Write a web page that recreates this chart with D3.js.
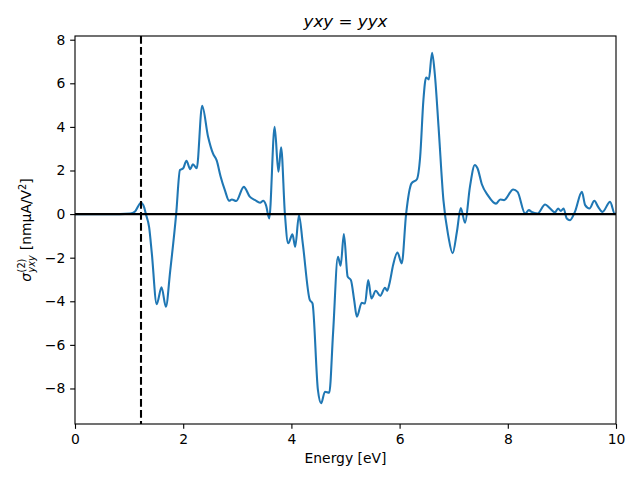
<!DOCTYPE html>
<html><head><meta charset="utf-8">
<script src="https://cdn.jsdelivr.net/npm/d3@7"></script>
<style>body{margin:0;background:#fff}svg{display:block}text{font-family:"DejaVu Sans",sans-serif;fill:#000}</style>
</head><body>
<svg id="c" width="640" height="480"></svg>
<script>
const energy = [0.0,0.83,1.02,1.11,1.22,1.28,1.31,1.37,1.42,1.51,1.60,1.68,1.76,1.87,1.94,2.00,2.06,2.13,2.18,2.25,2.35,2.46,2.55,2.62,2.69,2.77,2.85,2.90,2.98,3.12,3.23,3.33,3.42,3.48,3.53,3.59,3.69,3.76,3.81,3.88,3.94,4.02,4.07,4.14,4.21,4.34,4.39,4.49,4.55,4.62,4.70,4.77,4.86,4.91,4.97,5.04,5.10,5.16,5.21,5.30,5.36,5.42,5.48,5.56,5.64,5.73,5.77,5.82,5.88,5.96,6.04,6.12,6.22,6.32,6.38,6.44,6.49,6.54,6.60,6.65,6.72,6.81,6.90,6.98,7.06,7.13,7.21,7.30,7.39,7.44,7.52,7.63,7.78,7.86,7.93,8.10,8.18,8.32,8.39,8.44,8.55,8.69,8.78,8.87,8.93,8.98,9.03,9.09,9.15,9.24,9.37,9.43,9.51,9.60,9.67,9.75,9.89,9.98,10.0];
const sigma = [0,0,0.02,0.12,0.52,0.3,0.0,-0.6,-1.8,-4.13,-3.36,-4.25,-2.6,0.0,2.02,2.1,2.45,2.06,2.29,2.1,4.97,3.55,2.78,2.45,1.74,1.1,0.61,0.67,0.6,1.25,0.8,0.64,0.52,0.61,0.41,-0.2,4.0,1.94,3.06,0.0,-1.34,-0.93,-1.5,-0.05,-1.34,-3.94,-4.1,-8.07,-8.68,-8.15,-8.2,-5.47,-1.96,-2.37,-0.92,-2.87,-3.03,-3.94,-4.71,-4.07,-4.1,-3.03,-3.87,-3.52,-3.75,-3.38,-3.52,-3.1,-2.34,-1.76,-2.26,0.0,1.41,1.6,2.63,5.23,6.27,6.18,7.4,6.45,4.0,0.64,-1.0,-1.8,-0.8,0.28,-0.4,1.25,2.25,2.1,1.37,0.87,0.48,0.67,0.64,1.13,1.02,0.03,0.18,0.1,0.03,0.44,0.26,0.08,0.26,0.14,0.26,-0.2,-0.28,0.1,1.02,0.41,0.26,0.61,0.33,0.1,0.56,0.0,0.05];
const xTicks = [0,2,4,6,8,10];
const yTicks = [-8,-6,-4,-2,0,2,4,6,8];
const gapEnergy = 1.22;
const titleText = "yxy = yyx";
const xLabel = "Energy [eV]";

const svg = d3.select("#c");
const L=75, R=616, T=36, B=424;
const x = d3.scaleLinear().domain([0,10]).range([L,R]);
const y = d3.scaleLinear().domain([-9.63,8.17]).range([B,T]);

const clip = svg.append("clipPath").attr("id","cp").append("rect").attr("x",L).attr("y",T).attr("width",R-L).attr("height",B-T);
const plot = svg.append("g").attr("clip-path","url(#cp)");
plot.append("path").datum(energy.map((e,i)=>[e,sigma[i]]))
  .attr("fill","none").attr("stroke","#1f77b4").attr("stroke-width",2.08).attr("stroke-linejoin","round")
  .attr("d", d3.line().x(d=>x(d[0])).y(d=>y(d[1])).curve(d3.curveMonotoneX));
plot.append("line").attr("x1",L).attr("x2",R).attr("y1",y(0)).attr("y2",y(0)).attr("stroke","#000").attr("stroke-width",2.08);
plot.append("line").attr("x1",x(gapEnergy)).attr("x2",x(gapEnergy)).attr("y1",T).attr("y2",B).attr("stroke","#000").attr("stroke-width",2.08).attr("stroke-dasharray","7.7,3.3");

const xa = svg.append("g").attr("transform",`translate(0,${B})`).call(d3.axisBottom(x).tickValues(xTicks).tickSize(4.86).tickPadding(4.9).tickFormat(d3.format("d")));
const ya = svg.append("g").attr("transform",`translate(${L},0)`).call(d3.axisLeft(y).tickValues(yTicks).tickSize(4.86).tickPadding(4.9).tickFormat(d=>d<0?"\u2212"+Math.abs(d):d));
[xa,ya].forEach(a=>{a.select(".domain").remove();a.selectAll("line").attr("stroke-width",1.11);a.selectAll("text").style("font-family","DejaVu Sans").style("font-size","13.9px");});

svg.append("rect").attr("x",L).attr("y",T).attr("width",R-L).attr("height",B-T).attr("fill","none").attr("stroke","#000").attr("stroke-width",1.11);

svg.append("text").attr("x",(L+R)/2).attr("y",T-9).attr("text-anchor","middle").style("font-size","16.7px").style("font-style","italic").text(titleText);
svg.append("text").attr("x",(L+R)/2).attr("y",463).attr("text-anchor","middle").style("font-size","13.9px").text(xLabel);

// y label
const g = svg.append("g").attr("transform",`translate(31,${(T+B)/2}) rotate(-90)`);
const inner = g.append("g");
let cx = 0;
const t1 = inner.append("text").attr("x",cx).attr("y",0).style("font-size","13.9px").style("font-style","italic").text("σ");
cx += t1.node().getComputedTextLength()+0.5;
const sup = inner.append("text").attr("x",cx).attr("y",-6).style("font-size","9.7px").text("(2)");
const sub = inner.append("text").attr("x",cx).attr("y",4).style("font-size","9.7px").style("font-style","italic").text("yxy");
cx += Math.max(sup.node().getComputedTextLength(), sub.node().getComputedTextLength()) + 5;
const t2 = inner.append("text").attr("x",cx).attr("y",0).style("font-size","13.9px");
t2.append("tspan").text("[nmμA/V");
t2.append("tspan").attr("dy",-5).style("font-size","9.7px").text("2");
t2.append("tspan").attr("dy",5).text("]");
cx += t2.node().getComputedTextLength();
inner.attr("transform",`translate(${-cx/2},0)`);
</script>
</body></html>
